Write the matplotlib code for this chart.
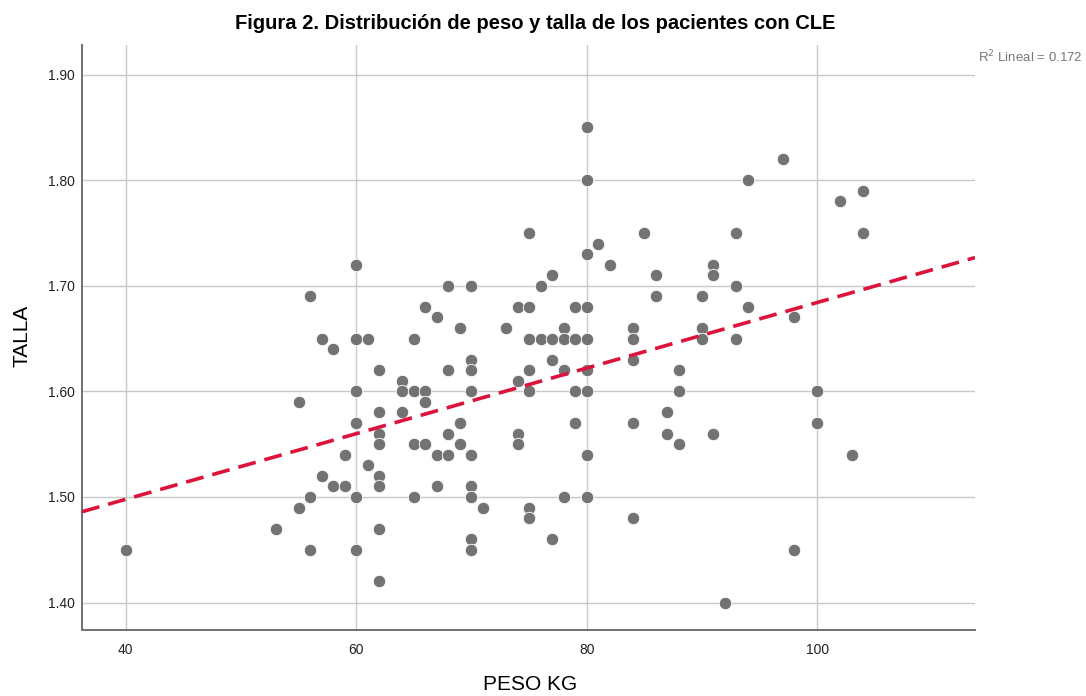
import numpy as np
import matplotlib.pyplot as plt

plt.rcParams["font.family"] = ["Liberation Sans", "DejaVu Sans"]

# peso (kg) and talla (m) of each patient
peso = [
    40, 53, 55, 55, 56, 56, 56, 57, 57, 58, 58, 59, 59,
    60, 60, 60, 60, 60, 60, 61, 61,
    62, 62, 62, 62, 62, 62, 62, 62,
    64, 64, 64, 65, 65, 65, 65, 66, 66, 66, 66,
    67, 67, 67, 68, 68, 68, 68, 69, 69, 69,
    70, 70, 70, 70, 70, 70, 70, 70, 70, 71, 73,
    74, 74, 74, 74, 75, 75, 75, 75, 75, 75, 75, 76, 76,
    77, 77, 77, 77, 78, 78, 78, 78, 79, 79, 79, 79,
    80, 80, 80, 80, 80, 80, 80, 80, 80, 81, 82,
    84, 84, 84, 84, 84, 85, 86, 86, 87, 87, 88, 88, 88,
    90, 90, 90, 91, 91, 91, 92, 93, 93, 93, 94, 94,
    97, 98, 98, 100, 100, 102, 103, 104, 104,
]
talla = [
    1.45, 1.47, 1.59, 1.49, 1.69, 1.50, 1.45, 1.65, 1.52, 1.64, 1.51, 1.54, 1.51,
    1.72, 1.65, 1.60, 1.57, 1.50, 1.45, 1.65, 1.53,
    1.62, 1.58, 1.56, 1.55, 1.52, 1.51, 1.47, 1.42,
    1.61, 1.60, 1.58, 1.65, 1.60, 1.55, 1.50, 1.68, 1.60, 1.59, 1.55,
    1.67, 1.54, 1.51, 1.70, 1.62, 1.56, 1.54, 1.66, 1.57, 1.55,
    1.70, 1.63, 1.62, 1.60, 1.54, 1.51, 1.50, 1.46, 1.45, 1.49, 1.66,
    1.68, 1.61, 1.56, 1.55, 1.75, 1.68, 1.65, 1.62, 1.60, 1.49, 1.48, 1.70, 1.65,
    1.71, 1.65, 1.63, 1.46, 1.66, 1.65, 1.62, 1.50, 1.68, 1.65, 1.60, 1.57,
    1.85, 1.80, 1.73, 1.68, 1.65, 1.62, 1.60, 1.54, 1.50, 1.74, 1.72,
    1.66, 1.65, 1.63, 1.57, 1.48, 1.75, 1.71, 1.69, 1.58, 1.56, 1.62, 1.60, 1.55,
    1.69, 1.66, 1.65, 1.72, 1.71, 1.56, 1.40, 1.75, 1.70, 1.65, 1.80, 1.68,
    1.82, 1.67, 1.45, 1.60, 1.57, 1.78, 1.54, 1.79, 1.75,
]
x_ticks = [40, 60, 80, 100]
y_ticks = [1.40, 1.50, 1.60, 1.70, 1.80, 1.90]
r2_label = "R$^2$ Lineal = 0.172"

peso = np.array(peso)
talla = np.array(talla)

fig = plt.figure(figsize=(10.86, 6.96), dpi=100)
ax = fig.add_axes([0.0755, 0.0948, 0.8223, 0.8405])

ax.scatter(peso, talla, s=80, color="#737373", edgecolors="white",
           linewidths=0.6, zorder=3)

# linear fit line across the whole x range
slope, intercept = np.polyfit(peso, talla, 1)
xlim = (36.2, 113.7)
xs = np.array(xlim)
ax.plot(xs, intercept + slope * xs, color="#DC143C", lw=2.6,
        ls=(0, (5, 2.5)), zorder=4)

ax.set_xlim(*xlim)
ax.set_ylim(1.374, 1.928)
ax.set_xticks(x_ticks)
ax.set_yticks(y_ticks)
ax.set_yticklabels([f"{v:.2f}" for v in y_ticks])

ax.grid(True, color="#c8c8c8", lw=1.0)
ax.set_axisbelow(True)
for side in ["top", "right"]:
    ax.spines[side].set_visible(False)
for side in ["left", "bottom"]:
    ax.spines[side].set_color("#707070")
    ax.spines[side].set_linewidth(1.4)
ax.tick_params(length=0, labelsize=10, labelcolor="#222222")
ax.tick_params(axis="y", pad=5)
ax.tick_params(axis="x", pad=9)

fig.text(0.488, 0.016, "PESO KG", ha="center", va="center", fontsize=15)
fig.text(0.0203, 0.517, "TALLA", ha="center", va="center", fontsize=15,
         rotation=90)
fig.text(0.493, 0.966, "Figura 2. Distribución de peso y talla de los pacientes con CLE",
         ha="center", va="center", fontsize=14.5, fontweight="bold")
fig.text(0.997, 0.918, r2_label, ha="right", va="center", fontsize=9.5,
         color="#777777")

fig.savefig("out.png", dpi=100)
